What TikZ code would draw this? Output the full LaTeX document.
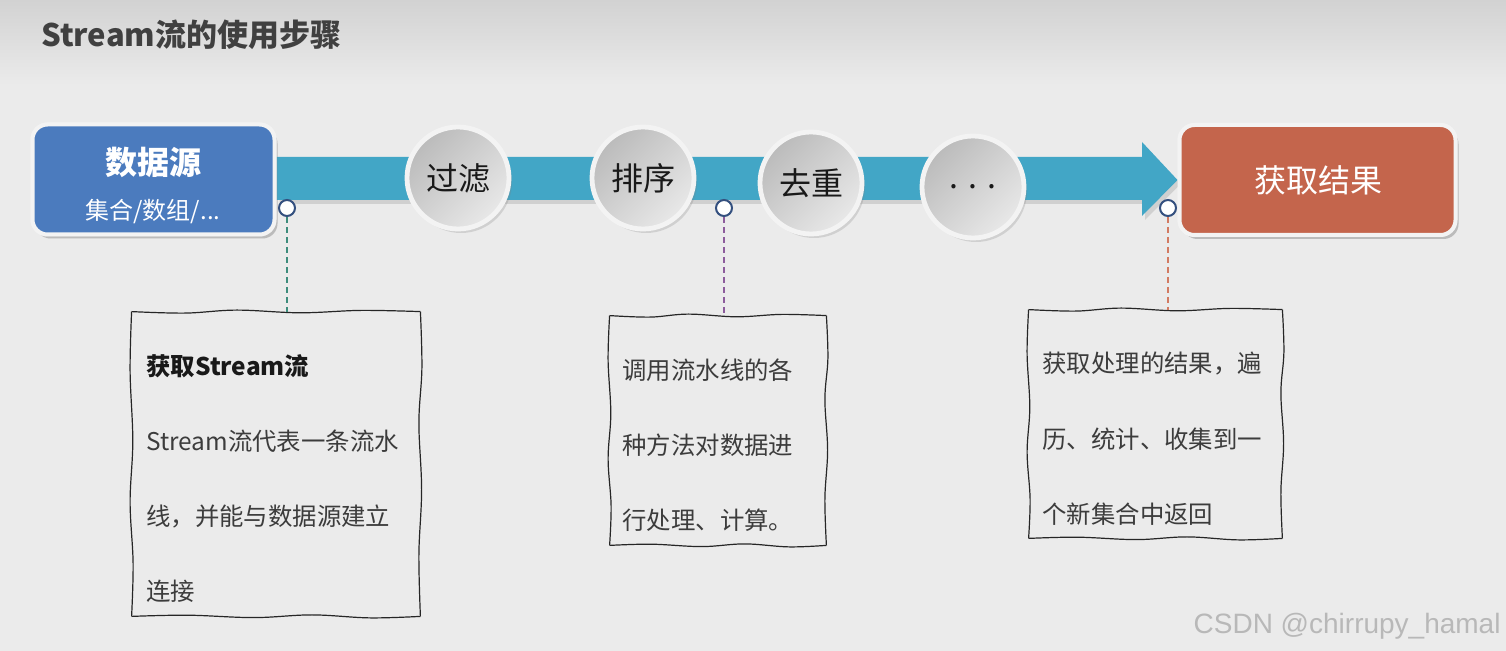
\documentclass[tikz,border=0pt]{standalone}
\usepackage{fontspec}
\setmainfont{Noto Sans CJK SC}
\newfontfamily\wmfont{Liberation Sans}
\usetikzlibrary{shadows,calc}
\definecolor{bgc}{HTML}{EBEBEB}
\definecolor{bgtop}{HTML}{D2D2D2}
\definecolor{srcblue}{HTML}{4B7BBE}
\definecolor{resred}{HTML}{C4654C}
\definecolor{pipec}{HTML}{42A6C6}
\definecolor{ringc}{HTML}{F3F3F3}
\definecolor{txtc}{HTML}{3C3C3C}
\definecolor{titlec}{HTML}{404040}
\definecolor{markc}{HTML}{34507F}
\definecolor{dashgreen}{HTML}{3E8C7C}
\definecolor{dashpurple}{HTML}{8C5C9C}
\definecolor{dashred}{HTML}{D27A62}
\definecolor{circdark}{HTML}{BBBBBB}
\definecolor{circlight}{HTML}{E8E8E8}
\newcommand{\wavyside}[3]{% node, corner a, corner b
  plot[smooth, tension=0.6] coordinates {(#1.#2)
    ($(#1.#2)!0.18!(#1.#3)+(1.5,1.5)$)
    ($(#1.#2)!0.37!(#1.#3)+(-1.5,-1.5)$)
    ($(#1.#2)!0.58!(#1.#3)+(1.2,1.2)$)
    ($(#1.#2)!0.8!(#1.#3)+(-1.5,-1.2)$)
    (#1.#3)}}
\newcommand{\wavybox}[1]{%
  \draw[wavy] \wavyside{#1}{north west}{north east};
  \draw[wavy] \wavyside{#1}{north east}{south east};
  \draw[wavy] \wavyside{#1}{south east}{south west};
  \draw[wavy] \wavyside{#1}{south west}{north west};}
\begin{document}
\begin{tikzpicture}[x=0.5pt,y=-0.5pt,
  mainbox/.style={rectangle, rounded corners=7.5pt, draw=ringc, line width=2pt,
    minimum width=121pt, minimum height=55pt, inner sep=0pt,
    drop shadow={shadow xshift=1.5pt, shadow yshift=-2pt, opacity=0.25}},
  stepcirc/.style={circle, draw=ringc, line width=2.4pt, minimum size=51pt, inner sep=0pt,
    top color=circdark, bottom color=circlight, shading angle=45,
    drop shadow={shadow xshift=1.5pt, shadow yshift=-2pt, opacity=0.25},
    font=\fontsize{16}{16}\selectfont, text=black!90},
  marker/.style={circle, draw=markc, fill=white, line width=1pt, minimum size=8pt, inner sep=0pt},
  notebox/.style={rectangle, inner sep=0pt},
  wavy/.style={draw=black!85, line width=0.6pt, line join=round},
  notetxt/.style={anchor=west, inner sep=0pt, font=\fontsize{12.2}{12.2}\selectfont, text=txtc},
  conn/.style={line width=0.6pt, dash pattern=on 3pt off 2pt}
]
\useasboundingbox (0,0) rectangle (1506,651);
\fill[bgc] (0,0) rectangle (1506,651);
\shade[top color=bgtop, bottom color=bgc] (0,0) rectangle (1506,85);

\node[anchor=west, inner sep=0pt, font=\bfseries\fontsize{15.5}{16}\selectfont, text=titlec] (title) at (41,35) {Stream流的使用步骤};

% nodes
\node[mainbox, fill=srcblue] (src) at (153.5,179.5) {};
\node[mainbox, fill=resred, minimum width=138pt] (res) at (1317.5,180) {};

% pipeline arrow
\coordinate (p0) at (src.east |- 0,157);
\coordinate (p1) at (1142,157);
\coordinate (p2) at (1142,142);
\coordinate (p3) at (res.west);
\coordinate (p4) at (1142,216);
\coordinate (p5) at (1142,200);
\coordinate (p6) at (src.east |- 0,200);
\fill[pipec, drop shadow={shadow xshift=1.5pt, shadow yshift=-2pt, opacity=0.25}]
  (p0) -- (p1) -- (p2) -- (p3) -- (p4) -- (p5) -- (p6) -- cycle;

% redraw boxes over arrow
\node[mainbox, fill=srcblue] (src2) at (src) {};
\node[mainbox, fill=resred, minimum width=138pt] (res2) at (res) {};

\node[font=\bfseries\fontsize{16}{16}\selectfont, text=white] (srct) at (153,162) {数据源};
\node[font=\fontsize{12}{12}\selectfont, text=white] (srcs) at (153,212) {集合/数组/...};
\node[font=\fontsize{16}{16}\selectfont, text=white] (rest) at (1318,180) {获取结果};

% step circles
\node[stepcirc] (c1) at (458,178) {过滤};
\node[stepcirc] (c2) at (643,178) {排序};
\node[stepcirc] (c3) at (811,183) {去重};
\node[stepcirc] (c4) at (973,187) {.\hspace{5pt}.\hspace{5pt}.};

% note boxes
\node[notebox, minimum width=144pt, minimum height=152pt] (n1) at (276,464) {};
\node[notebox, minimum width=108pt, minimum height=114.5pt] (n2) at (718,430.5) {};
\node[notebox, minimum width=126.5pt, minimum height=114pt] (n3) at (1155.5,424) {};
\wavybox{n1}
\wavybox{n2}
\wavybox{n3}

% markers and dashed connectors
\node[marker] (m1) at (287,208) {};
\node[marker] (m2) at (724,208) {};
\node[marker] (m3) at (1168,208) {};
\draw[conn, dashgreen] (m1.south) -- (m1.south |- n1.north);
\draw[conn, dashpurple] (m2.south) -- (m2.south |- n2.north);
\draw[conn, dashred] (m3.south) -- (m3.south |- n3.north);

% note texts
\node[notetxt, font=\bfseries\fontsize{12.2}{12.2}\selectfont, text=black!90] (t11) at (146,366) {获取Stream流};
\node[notetxt] (t12) at (146,441) {Stream流代表一条流水};
\node[notetxt] (t13) at (146,516) {线，并能与数据源建立};
\node[notetxt] (t14) at (146,591) {连接};

\node[notetxt] (t21) at (622,370) {调用流水线的各};
\node[notetxt] (t22) at (622,445) {种方法对数据进};
\node[notetxt] (t23) at (622,520) {行处理、计算。};

\node[notetxt] (t31) at (1042,364) {获取处理的结果，遍};
\node[notetxt] (t32) at (1042,439) {历、统计、收集到一};
\node[notetxt] (t33) at (1042,514) {个新集合中返回};

% watermark
\node[anchor=east, inner sep=0pt, font=\wmfont\fontsize{14}{15}\selectfont, text=black!28] (wm) at (1501,626) {CSDN @chirrupy\_hamal};
\end{tikzpicture}
\end{document}
